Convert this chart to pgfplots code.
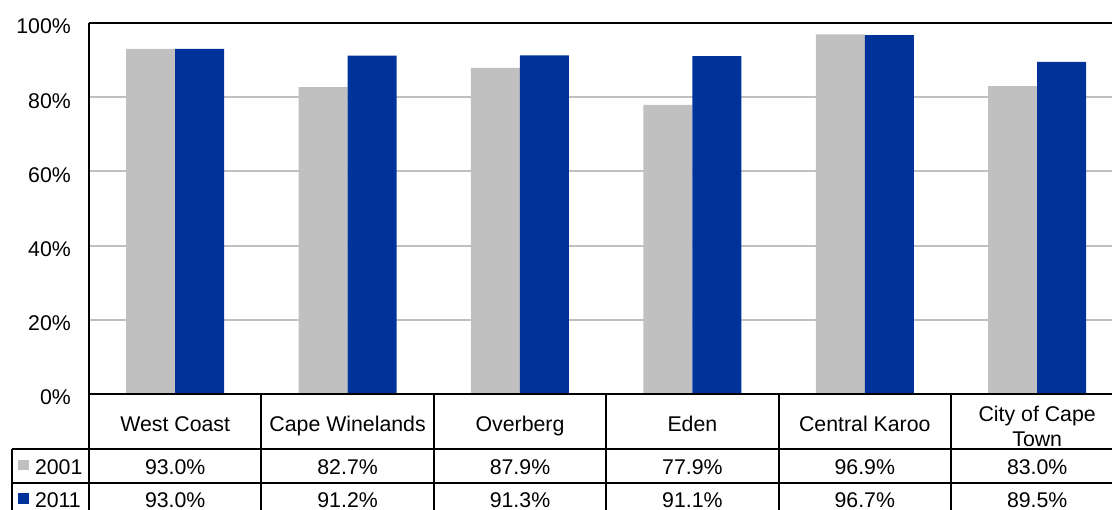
\documentclass[border=0pt]{standalone}
\usepackage{fontspec}
\setmainfont{Liberation Sans}
\usepackage{pgfplots}
\usepackage{pgfplotstable}
\pgfplotsset{compat=1.18}
\pgfkeys{/pgf/number format/assume math mode=true}

\definecolor{grey01}{HTML}{C0C0C0}
\definecolor{blue11}{HTML}{003399}

% share of households, by district, 2001 and 2011
\pgfplotstableread{
idx y2001 y2011
0 93.0 93.0
1 82.7 91.2
2 87.9 91.3
3 77.9 91.1
4 96.9 96.7
5 83.0 89.5
}\shares

\begin{document}
\begin{tikzpicture}[font=\fontsize{21.3}{25.5}\selectfont]
\begin{scope}
\clip (0pt,0pt) rectangle (1112pt,510pt);
\begin{axis}[
  at={(89pt,116pt)}, anchor=south west,
  scale only axis, width=1023pt, height=371pt,
  ymin=0, ymax=100, xmin=-0.5, xmax=5.434,
  ybar=0pt, bar width=49pt,
  axis line style={draw=none},
  ytick={0,20,...,100},
  yticklabel={\pgfmathprintnumber{\tick}\%},
  yticklabel style={anchor=east, inner sep=0pt, xshift=-18pt, yshift=-3.5pt},
  xtick=\empty,
  major tick length=0pt,
  ymajorgrids,
  grid style={line width=2pt, color=grey01},
  clip=false,
]
\addplot[fill=grey01, draw=none] table[x=idx, y=y2001] {\shares};
\addplot[fill=blue11, draw=none] table[x=idx, y=y2011] {\shares};
\end{axis}

\begin{scope}[x=1pt, y=1pt, line width=2pt]
  % frame of the plot area
  \draw (89,487) -- (1125,487);
  \draw (89,487) -- (89,-10);
  % data table rules
  \draw (89,116) -- (1125,116);
  \draw (11.7,61) -- (1125,61);
  \draw (11.7,27) -- (1125,27);
  \draw (11.7,61) -- (11.7,-10);
  \foreach \k in {1,...,5}{
    \draw ({89+172.4*\k},116) -- ({89+172.4*\k},-10);
  }
  % category headings
  \foreach \r/\name in {0/West Coast,1/Cape Winelands,2/Overberg,3/Eden,4/Central Karoo}{
    \node[anchor=base, inner sep=0pt] at ({89+172.4*\r+86.2},78.3) {\name};
  }
  \node[anchor=base, inner sep=0pt] at ({89+172.4*5+86.2},88.5) {City of Cape};
  \node[anchor=base, inner sep=0pt] at ({89+172.4*5+86.2},63.5) {Town};
  % legend keys
  \fill[grey01] (18,39.5) rectangle (29,50);
  \fill[blue11] (18,5.5) rectangle (29,16.5);
  \node[anchor=base west, inner sep=0pt] at (34,35) {2001};
  \node[anchor=base west, inner sep=0pt] at (34,2.5) {2011};
  % table values
  \foreach \r in {0,...,5}{
    \pgfplotstablegetelem{\r}{y2001}\of\shares
    \node[anchor=base, inner sep=0pt] at ({89+172.4*\r+86.2},35)
      {\pgfmathprintnumber[fixed,fixed zerofill,precision=1]{\pgfplotsretval}\%};
    \pgfplotstablegetelem{\r}{y2011}\of\shares
    \node[anchor=base, inner sep=0pt] at ({89+172.4*\r+86.2},2.5)
      {\pgfmathprintnumber[fixed,fixed zerofill,precision=1]{\pgfplotsretval}\%};
  }
\end{scope}
\end{scope}
\pgfresetboundingbox
\useasboundingbox (0pt,0pt) rectangle (1112pt,510pt);
\end{tikzpicture}
\end{document}
